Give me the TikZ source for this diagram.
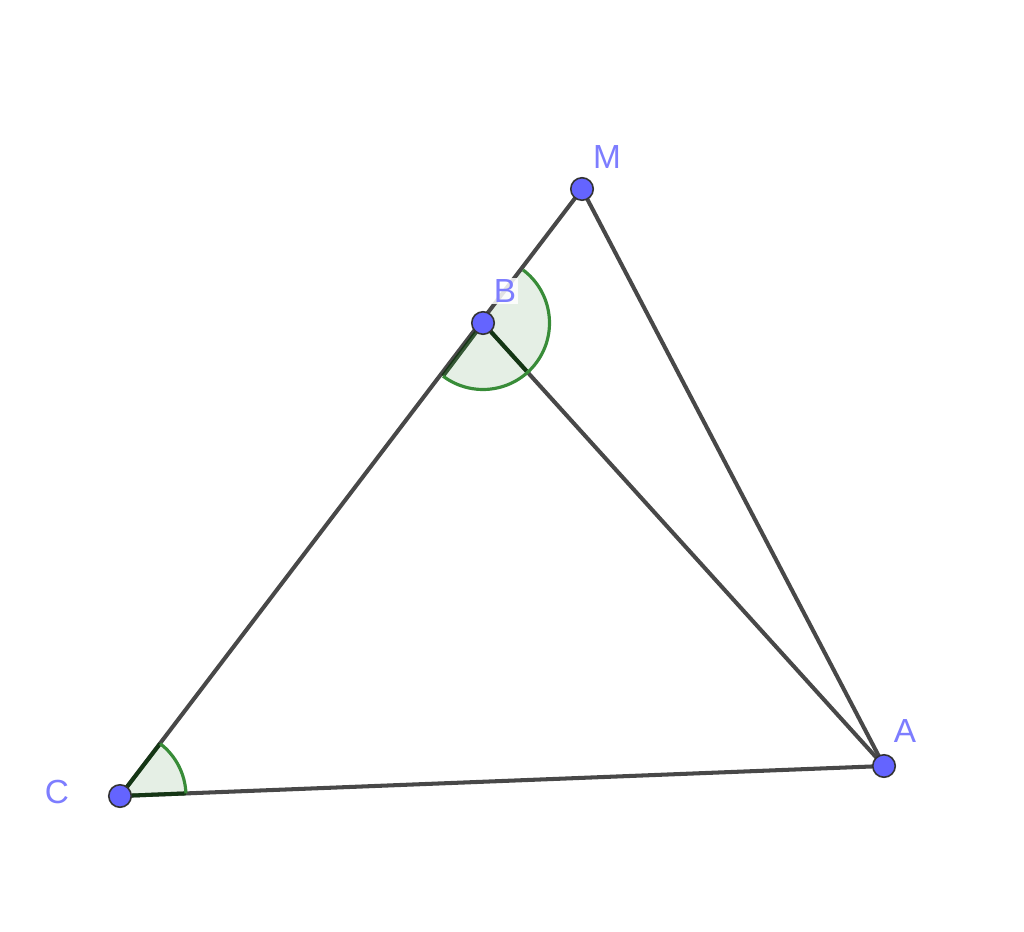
\documentclass[tikz,border=0pt]{standalone}
\usepackage{fontspec}
\setmainfont{Liberation Sans}
\definecolor{seg}{RGB}{72,72,72}
\definecolor{ptfill}{RGB}{100,100,255}
\definecolor{lbl}{RGB}{125,125,255}
\definecolor{angcol}{RGB}{56,140,56}
\definecolor{angfill}{RGB}{0,100,0}
\definecolor{angdark}{RGB}{10,50,10}
\tikzset{
  segline/.style={draw=seg, line width=2.3pt},
  pt/.style={circle, fill=ptfill, draw=black!80, line width=0.9pt, minimum size=0.45cm, inner sep=0pt},
  ptlabel/.style={text=lbl, font=\fontsize{19}{19}\selectfont, inner sep=1pt, fill=white, fill opacity=0.85, text opacity=1},
  angsector/.style={fill=angfill, fill opacity=0.1},
  angarc/.style={draw=angcol, line width=1.8pt},
  angedge/.style={draw=angdark, draw opacity=0.8, line width=2.3pt}
}
\begin{document}
\begin{tikzpicture}[x=0.02cm, y=0.02cm]
\useasboundingbox (0,0) rectangle (1024,931);
\coordinate (M) at (582,742);
\coordinate (B) at (483,608);
\coordinate (C) at (120,135);
\coordinate (A) at (884,165);
% segments
\draw[segline] (C) -- (M);
\draw[segline] (M) -- (A);
\draw[segline] (B) -- (A);
\draw[segline] (C) -- (A);
% angle at B
\fill[angsector] (B) -- ++(53:1.33cm) arc[start angle=53, end angle=-127, radius=1.33cm] -- cycle;
\draw[angedge] (B) -- ++(-127:1.33cm);
\draw[angedge] (B) -- ++(-47.8:1.3cm);
\draw[angarc] (B) ++(53:1.33cm) arc[start angle=53, end angle=-127, radius=1.33cm];
% angle at C
\fill[angsector] (C) -- ++(2.25:1.32cm) arc[start angle=2.25, end angle=52.5, radius=1.32cm] -- cycle;
\draw[angedge] (C) -- ++(2.25:1.32cm);
\draw[angedge] (C) -- ++(52.5:1.32cm);
\draw[angarc] (C) ++(2.25:1.32cm) arc[start angle=2.25, end angle=52.5, radius=1.32cm];
% labels
\node[ptlabel] (lM) at (607,774) {M};
\node[ptlabel] (lB) at (505,640) {B};
\node[ptlabel] (lA) at (905,200) {A};
\node[ptlabel] (lC) at (57,139) {C};
% points
\node[pt] (pM) at (M) {};
\node[pt] (pB) at (B) {};
\node[pt] (pC) at (C) {};
\node[pt] (pA) at (A) {};
\end{tikzpicture}
\end{document}
